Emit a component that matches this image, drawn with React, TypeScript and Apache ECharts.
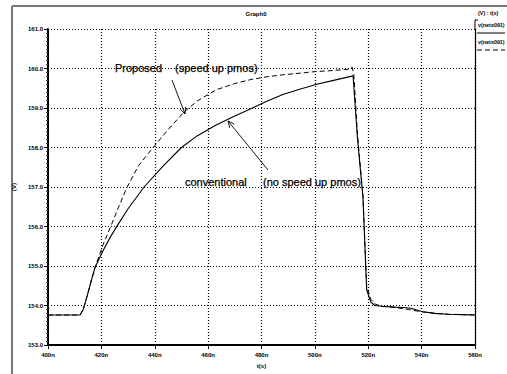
import React, { useEffect, useRef } from "react";
import * as echarts from "echarts";

const xTicks = [400, 420, 440, 460, 480, 500, 520, 540, 560];
const yTicks = [153, 154, 155, 156, 157, 158, 159, 160, 161];

const proposedT = [400, 412, 413.2, 414.5, 415.7, 417.6, 420.7, 423.5, 426.5, 429.5, 434, 440, 445, 450.7, 456, 463, 470, 476, 482, 488, 494, 500, 507, 512.5, 514, 514.6, 516, 518, 519.4, 521, 522.5, 525, 530, 535, 540, 545, 550, 555, 560];
const proposedV = [153.76, 153.76, 153.9, 154.2, 154.5, 154.96, 155.55, 156.0, 156.5, 156.98, 157.55, 158.05, 158.45, 158.88, 159.18, 159.46, 159.62, 159.72, 159.79, 159.84, 159.88, 159.92, 159.95, 159.98, 160.03, 159.85, 158.3, 156.8, 154.5, 154.15, 154.04, 153.98, 153.95, 153.9, 153.84, 153.8, 153.78, 153.77, 153.76];

const conventionalT = [400, 412, 413.2, 414.5, 415.7, 417.6, 420.7, 423.5, 426.5, 430, 436, 443, 450, 456, 463, 470, 476, 482, 488, 494, 500.7, 507, 513.5, 514.3, 516, 518, 519.4, 521, 522.5, 525, 530, 533, 536, 540, 545, 550, 555, 560];
const conventionalV = [153.76, 153.76, 153.9, 154.2, 154.5, 154.96, 155.4, 155.75, 156.08, 156.45, 157.0, 157.52, 158.0, 158.3, 158.57, 158.8, 158.98, 159.17, 159.34, 159.47, 159.6, 159.7, 159.8, 159.82, 158.2, 156.76, 154.4, 154.08, 154.0, 153.98, 153.96, 153.95, 153.93, 153.85, 153.8, 153.78, 153.77, 153.76];

const legendTitle = "(V) : t(s)";
const seriesNames = ["v(netx091)", "v(netx091)"];
const annotations = {
  proposed: "Proposed",
  proposedNote: "(speed up pmos)",
  conventional: "conventional",
  conventionalNote: "(no speed up pmos)",
};

function arrow(x1: number, y1: number, x2: number, y2: number) {
  const dx = x1 - x2;
  const dy = y1 - y2;
  const len = Math.sqrt(dx * dx + dy * dy);
  const ux = dx / len;
  const uy = dy / len;
  const a = (25 * Math.PI) / 180;
  const L = 7;
  const p1 = [x2 + L * (ux * Math.cos(a) - uy * Math.sin(a)), y2 + L * (ux * Math.sin(a) + uy * Math.cos(a))];
  const p2 = [x2 + L * (ux * Math.cos(a) + uy * Math.sin(a)), y2 + L * (-ux * Math.sin(a) + uy * Math.cos(a))];
  const st = { stroke: "#000", lineWidth: 0.9, fill: "none" };
  return [
    { type: "line", shape: { x1, y1, x2, y2 }, style: st, z: 10 },
    { type: "polyline", shape: { points: [p1, [x2, y2], p2] }, style: st, z: 10 },
  ];
}

export default function App() {
  const ref = useRef<HTMLDivElement>(null);
  useEffect(() => {
    if (!ref.current) return;
    const chart = echarts.init(ref.current, undefined, { renderer: "svg" });
    const smallFont = { fontFamily: "Liberation Sans, Arial, sans-serif", fontSize: 6, fontWeight: "bold" as const, color: "#000" };
    const annFont = "11px 'Liberation Sans', Arial, sans-serif";
    const annStyle = { fill: "#000", stroke: "#000", lineWidth: 0.25, font: annFont, verticalAlign: "middle" };
    const legFont = "bold 5.4px 'Liberation Sans', Arial, sans-serif";
    chart.setOption({
      animation: false,
      backgroundColor: "#fff",
      grid: { left: 48, right: 32, top: 29, bottom: 28, containLabel: false },
      xAxis: {
        type: "value",
        min: 400,
        max: 560,
        interval: 20,
        name: "t(s)",
        nameLocation: "middle",
        nameGap: 18,
        nameTextStyle: { ...smallFont },
        axisLine: { show: true, onZero: false, lineStyle: { color: "#000", width: 2 } },
        axisTick: { show: true, length: 4, lineStyle: { color: "#000" } },
        axisLabel: { ...smallFont, margin: 7, formatter: (v: number) => `${v}n` },
        splitLine: { show: true, lineStyle: { color: "#000", type: [1, 2], width: 1.2 } },
      },
      yAxis: [
        {
          type: "value",
          min: 153,
          max: 161,
          interval: 1,
          name: "(V)",
          nameLocation: "middle",
          nameGap: 16,
          nameRotate: 90,
          nameTextStyle: { ...smallFont },
          axisLine: { show: true, onZero: false, lineStyle: { color: "#000", width: 2 } },
          axisTick: { show: true, length: 4, lineStyle: { color: "#000" } },
          minorTick: { show: true, splitNumber: 10, length: 2, lineStyle: { color: "#444" } },
          axisLabel: { ...smallFont, margin: 5, formatter: (v: number) => v.toFixed(1) },
          splitLine: { show: true, lineStyle: { color: "#000", type: [1, 2], width: 1.2 } },
        },
        {
          type: "value",
          min: 153,
          max: 161,
          interval: 1,
          position: "right",
          axisLine: { show: true, onZero: false, lineStyle: { color: "#000", width: 1.2 } },
          axisTick: { show: false },
          axisLabel: { show: false },
          splitLine: { show: false },
        },
      ],
      series: [
        {
          name: seriesNames[0],
          type: "line",
          showSymbol: false,
          data: conventionalT.map((t, i) => [t, conventionalV[i]]),
          lineStyle: { color: "#000", width: 1.1, type: "solid" },
          z: 5,
        },
        {
          name: seriesNames[1],
          type: "line",
          showSymbol: false,
          data: proposedT.map((t, i) => [t, proposedV[i]]),
          lineStyle: { color: "#000", width: 1, type: [5, 3] },
          z: 5,
        },
      ],
      graphic: [
        { type: "line", shape: { x1: 12, y1: 6, x2: 507, y2: 6 }, style: { stroke: "#777", lineWidth: 2 } },
        { type: "line", shape: { x1: 12, y1: 6, x2: 12, y2: 374 }, style: { stroke: "#777", lineWidth: 2 } },
        { type: "text", x: 256, y: 14, style: { text: "Graph0", fill: "#000", font: "bold 6px 'Liberation Sans', Arial, sans-serif", align: "center", verticalAlign: "middle" } },
        { type: "line", shape: { x1: 475, y1: 20, x2: 475, y2: 29 }, style: { stroke: "#000", lineWidth: 1 } },
        { type: "line", shape: { x1: 475, y1: 20, x2: 478, y2: 20 }, style: { stroke: "#000", lineWidth: 1 } },
        { type: "text", x: 478, y: 13, style: { text: legendTitle, fill: "#000", font: legFont, verticalAlign: "middle" } },
        { type: "text", x: 478, y: 25, style: { text: seriesNames[0], fill: "#000", font: legFont, verticalAlign: "middle" } },
        { type: "line", shape: { x1: 477, y1: 33, x2: 505, y2: 33 }, style: { stroke: "#000", lineWidth: 1 } },
        { type: "text", x: 478, y: 42, style: { text: seriesNames[1], fill: "#000", font: legFont, verticalAlign: "middle" } },
        { type: "line", shape: { x1: 477, y1: 50, x2: 505, y2: 50 }, style: { stroke: "#000", lineWidth: 1, lineDash: [5, 3] } },
        { type: "text", x: 115, y: 68, z: 10, style: { text: annotations.proposed, ...annStyle } },
        { type: "text", x: 175, y: 68, z: 10, style: { text: annotations.proposedNote, ...annStyle } },
        { type: "text", x: 185, y: 182, z: 10, style: { text: annotations.conventional, ...annStyle } },
        { type: "text", x: 263, y: 182, z: 10, style: { text: annotations.conventionalNote, ...annStyle } },
        ...arrow(172, 80, 185, 114),
        ...arrow(268, 170, 228, 121),
      ],
    });
    return () => chart.dispose();
  }, []);
  return <div ref={ref} style={{ position: "fixed", left: 0, top: 0, width: 507, height: 374 }} />;
}
